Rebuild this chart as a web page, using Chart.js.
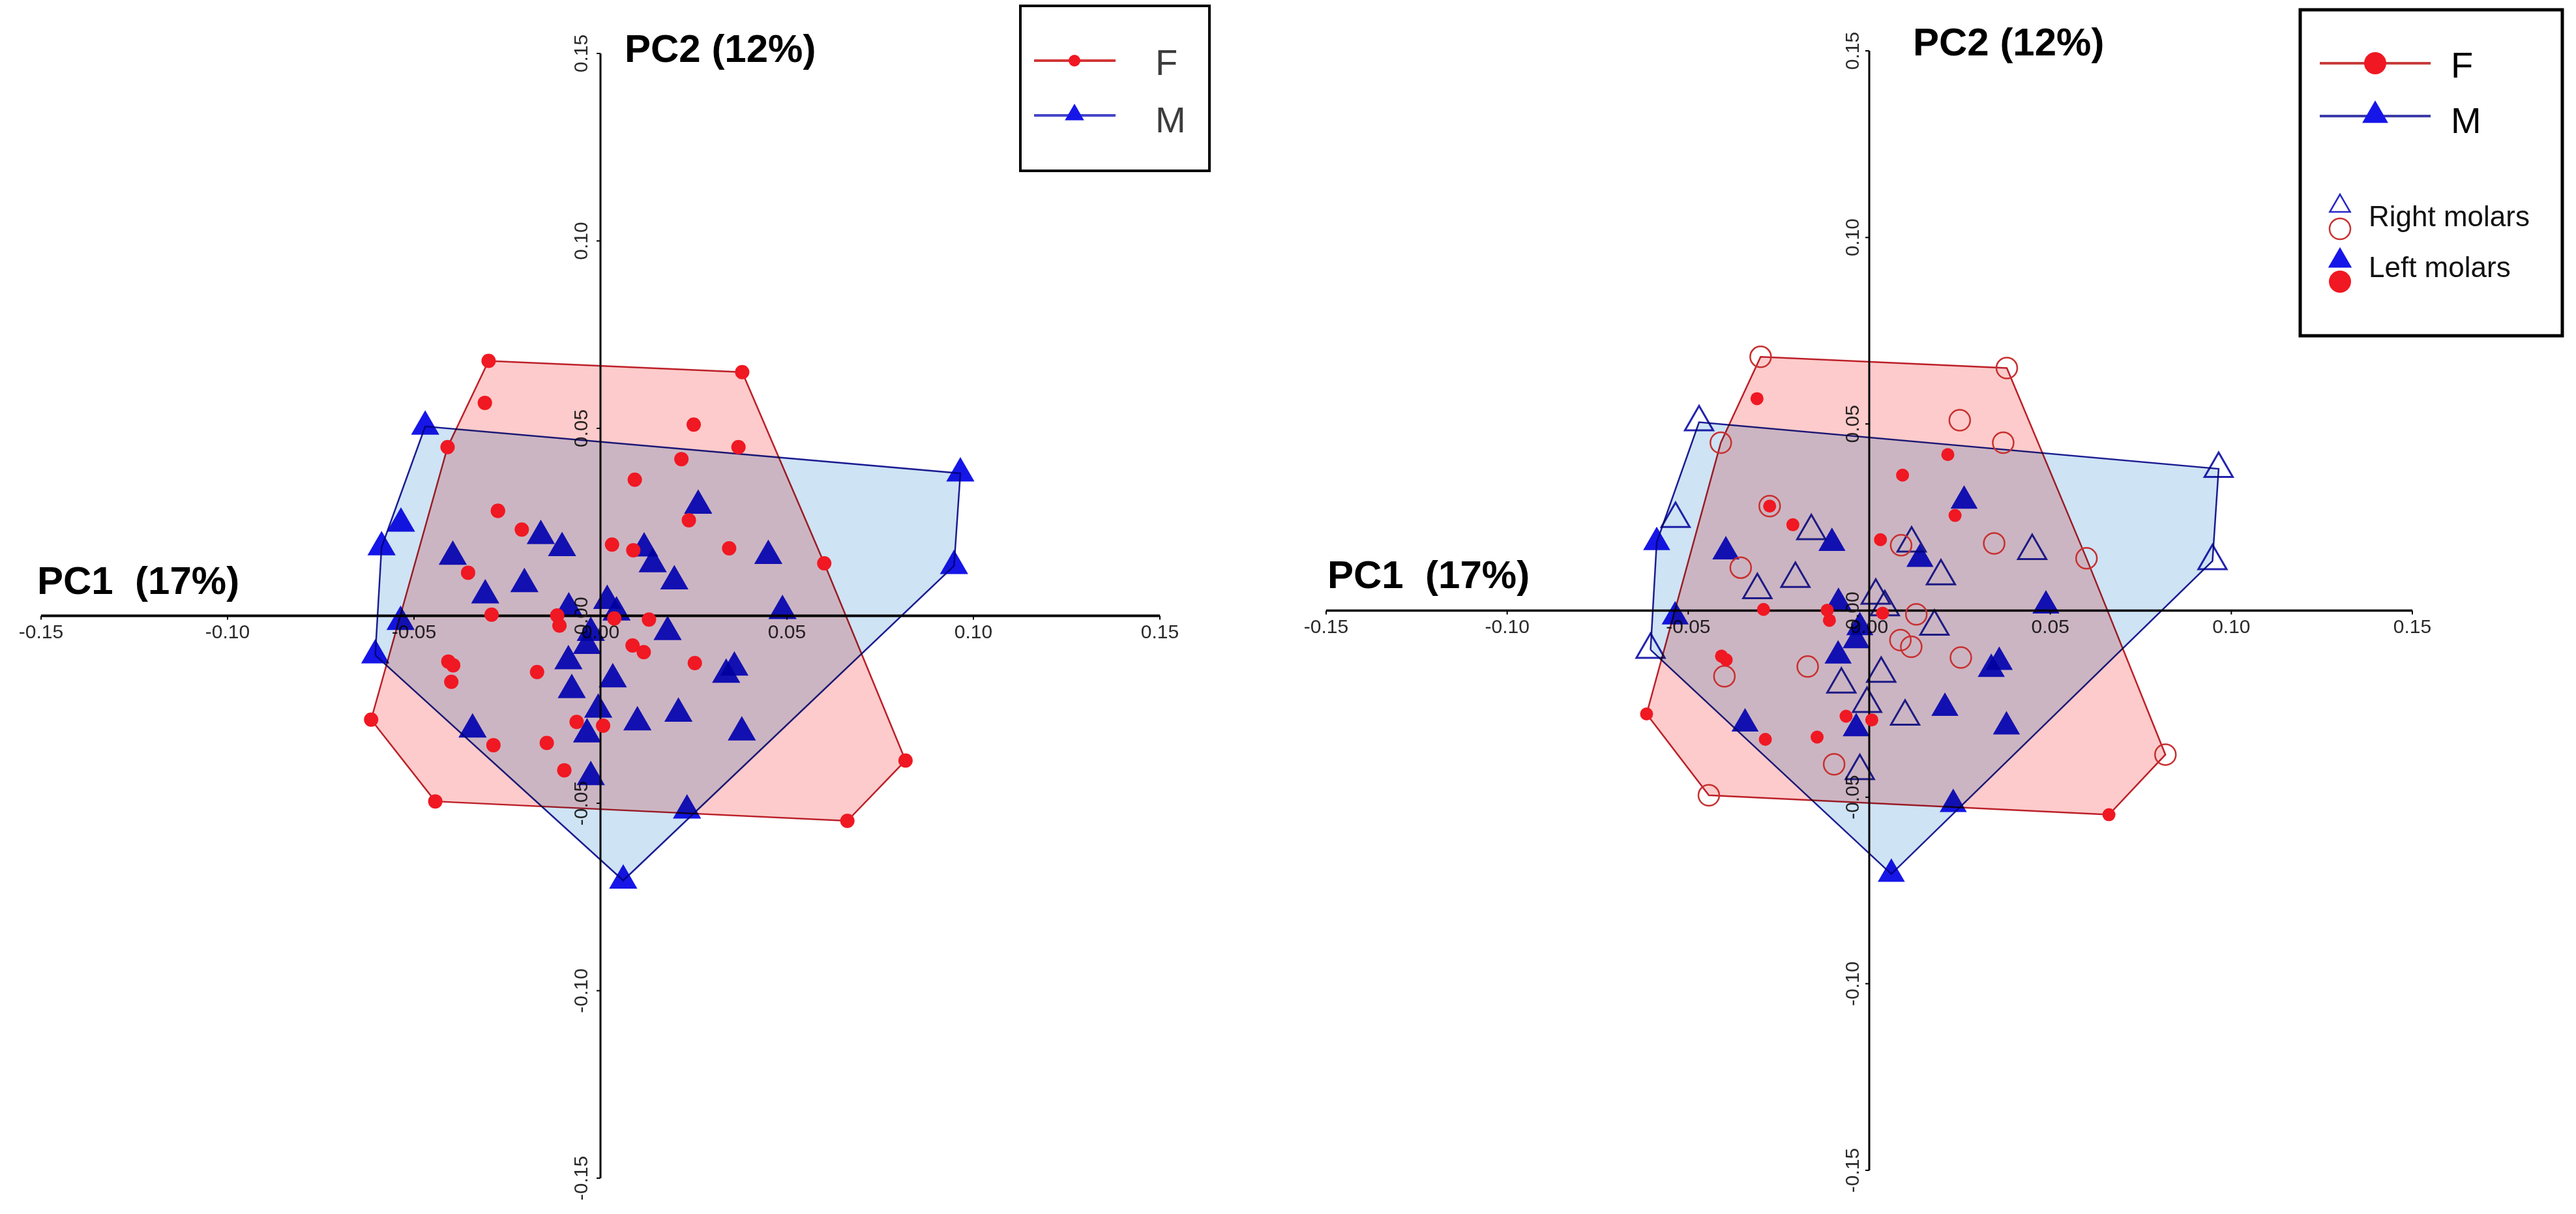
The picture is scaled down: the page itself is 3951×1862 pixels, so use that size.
<!DOCTYPE html>
<html>
<head>
<meta charset="UTF-8">
<title>PCA molars F / M</title>
<style>
  body { margin:0; background:#fff; width:3951px; height:1862px; position:relative; overflow:hidden; }
  canvas { position:absolute; top:0; }
  #pcaLeft { left:0; }
  #pcaRight { left:1975px; }
</style>
</head>
<body>
<canvas id="pcaLeft" width="1975" height="1862"></canvas>
<canvas id="pcaRight" width="1976" height="1862"></canvas>
<script src="https://cdn.jsdelivr.net/npm/chart.js"></script>
<script>
// ---------------- data: [PC1, PC2] ----------------
const tickValues = [-0.15, -0.10, -0.05, 0.00, 0.05, 0.10, 0.15];
const axisTitleX = 'PC1  (17%)';
const axisTitleY = 'PC2 (12%)';
const sexLabels = ['F', 'M'];
const sideLabels = ['Right molars', 'Left molars'];

// females, right molars (open circles)
const fRight = [
  [-0.030, 0.068], [0.038, 0.065], [0.025, 0.051], [0.037, 0.045], [-0.041, 0.045],
  [-0.0275, 0.028], [-0.0355, 0.0115], [0.0345, 0.018], [0.060, 0.014], [0.0088, 0.0175],
  [0.013, -0.001], [0.0086, -0.0079], [0.0116, -0.0097], [0.0253, -0.0126], [-0.017, -0.015],
  [-0.040, -0.0176], [-0.0097, -0.0412], [-0.0443, -0.0495], [0.0818, -0.0386]
];
// females, left molars (filled circles)
const fLeft = [
  [-0.031, 0.0568], [0.0217, 0.0418], [0.0092, 0.0363], [0.0237, 0.0255], [-0.0275, 0.028],
  [-0.0211, 0.023], [0.0031, 0.019], [-0.0292, 0.0003], [-0.0116, 0.0001], [-0.011, -0.0026],
  [0.0037, -0.0007], [-0.0408, -0.0122], [-0.0395, -0.0132], [-0.0615, -0.0277], [-0.0064, -0.0283],
  [0.0007, -0.0293], [-0.0287, -0.0345], [-0.0144, -0.0339], [0.0662, -0.0547]
];
// males, right molars (open triangles)
const mRight = [
  [-0.047, 0.0505], [0.0965, 0.038], [-0.0535, 0.0246], [-0.016, 0.0213], [-0.0204, 0.0085],
  [-0.0309, 0.0055], [0.0117, 0.018], [0.045, 0.016], [0.0948, 0.0133], [0.0198, 0.0092],
  [0.0018, 0.004], [0.0043, 0.0009], [0.018, -0.0043], [-0.0604, -0.0105], [0.0033, -0.0169],
  [-0.0077, -0.0198], [-0.0006, -0.025], [0.0099, -0.0284], [-0.0026, -0.043]
];
// males, left molars (filled triangles)
const mLeft = [
  [-0.0587, 0.0183], [-0.0396, 0.0158], [-0.0103, 0.0181], [0.0262, 0.0294], [0.014, 0.0138],
  [-0.0085, 0.002], [-0.0536, -0.0016], [0.0488, 0.0013], [-0.0026, -0.0045], [-0.0036, -0.008],
  [-0.0086, -0.0121], [0.0359, -0.0138], [0.0337, -0.0157], [0.0209, -0.0261], [-0.0343, -0.0303],
  [-0.0036, -0.0316], [0.0379, -0.0311], [0.0232, -0.0519], [0.0061, -0.0706]
];

// ---------------- colours ----------------
const RED = 'rgb(240,24,34)';
const BLUE = 'rgb(22,22,232)';
const RED_LINE = 'rgb(190,35,45)';
const BLUE_LINE = 'rgb(30,30,150)';
const RED_FILL = 'rgb(253,203,203)';
const BLUE_FILL = 'rgb(206,227,244)';
const FONT = '"Liberation Sans", Arial, sans-serif';

// convex hull (monotone chain) -> closed polygon
function convexHull(pts) {
  const p = pts.slice().sort((a, b) => a[0] - b[0] || a[1] - b[1]);
  const cross = (o, a, b) => (a[0] - o[0]) * (b[1] - o[1]) - (a[1] - o[1]) * (b[0] - o[0]);
  const lower = [], upper = [];
  p.forEach(q => {
    while (lower.length >= 2 && cross(lower[lower.length - 2], lower[lower.length - 1], q) <= 0) lower.pop();
    lower.push(q);
  });
  p.slice().reverse().forEach(q => {
    while (upper.length >= 2 && cross(upper[upper.length - 2], upper[upper.length - 1], q) <= 0) upper.pop();
    upper.push(q);
  });
  upper.pop(); lower.pop();
  const h = lower.concat(upper);
  h.push(h[0]);
  return h;
}

const toXY = arr => arr.map(p => ({x: p[0], y: p[1]}));

function hullDataset(pts, line, fill) {
  return {
    data: toXY(convexHull(pts)),
    showLine: true,
    fill: 'shape',
    borderColor: line,
    borderWidth: 2.5,
    backgroundColor: fill,
    pointRadius: 0,
    tension: 0
  };
}

function pointDataset(pts, style, radius, color, open, borderW, onTop) {
  return {
    data: toXY(pts),
    showLine: false,
    pointStyle: style,
    pointRadius: radius,
    pointBackgroundColor: open ? 'rgba(0,0,0,0)' : color,
    pointBorderColor: color,
    pointBorderWidth: open ? borderW : 0,
    onTop: !!onTop
  };
}

function drawMarker(ctx, style, x, y, r, color, open) {
  ctx.beginPath();
  if (style === 'circle') {
    ctx.arc(x, y, r, 0, Math.PI * 2);
  } else {
    let a = 0;
    ctx.moveTo(x + Math.sin(a) * r, y - Math.cos(a) * r);
    a += Math.PI * 2 / 3;
    ctx.lineTo(x + Math.sin(a) * r, y - Math.cos(a) * r);
    a += Math.PI * 2 / 3;
    ctx.lineTo(x + Math.sin(a) * r, y - Math.cos(a) * r);
    ctx.closePath();
  }
  if (open) { ctx.strokeStyle = color; ctx.lineWidth = 2.5; ctx.stroke(); }
  else { ctx.fillStyle = color; ctx.fill(); }
}

// axes crossing at (0,0), titles, then multiply blending for the hulls
const crossAxes = {
  id: 'crossAxes',
  beforeDraw(chart) {
    const ctx = chart.ctx;
    ctx.save();
    ctx.fillStyle = '#fff';
    ctx.fillRect(0, 0, chart.width, chart.height);
    ctx.restore();
  },
  beforeDatasetsDraw(chart, args, o) {
    const {ctx, scales: {x, y}} = chart;
    const x0 = x.getPixelForValue(0), y0 = y.getPixelForValue(0);
    const first = tickValues[0], last = tickValues[tickValues.length - 1];
    ctx.save();
    ctx.strokeStyle = '#000';
    ctx.lineWidth = o.xLineWidth;
    ctx.beginPath();
    ctx.moveTo(x.getPixelForValue(first), y0);
    ctx.lineTo(x.getPixelForValue(last), y0);
    ctx.stroke();
    ctx.lineWidth = 3;
    ctx.beginPath();
    ctx.moveTo(x0, y.getPixelForValue(last));
    ctx.lineTo(x0, y.getPixelForValue(first));
    ctx.stroke();

    ctx.font = '30px ' + FONT;
    ctx.fillStyle = '#2a2a2a';
    tickValues.forEach(v => {
      const px = x.getPixelForValue(v);
      const py = y.getPixelForValue(v);
      ctx.lineWidth = 2;
      ctx.beginPath();
      ctx.moveTo(px, y0); ctx.lineTo(px, y0 + 6);
      ctx.moveTo(x0, py); ctx.lineTo(x0 - 6, py);
      ctx.stroke();
      ctx.textAlign = 'center';
      ctx.textBaseline = 'top';
      ctx.fillText(v.toFixed(2), px, y0 + o.xLabelGap);
      ctx.save();
      ctx.translate(x0 - o.yLabelGap, py);
      ctx.rotate(-Math.PI / 2);
      ctx.textBaseline = 'alphabetic';
      ctx.fillText(v.toFixed(2), 0, 0);
      ctx.restore();
    });

    ctx.font = 'bold 60px ' + FONT;
    ctx.fillStyle = '#000';
    ctx.textAlign = 'left';
    ctx.textBaseline = 'alphabetic';
    ctx.fillText(axisTitleY, x0 + o.titleY[0], y.top + o.titleY[1]);
    ctx.fillText(axisTitleX, x.left + o.titleX[0], y0 + o.titleX[1]);
    ctx.restore();

    ctx.save();
    ctx.globalCompositeOperation = 'multiply';
  },
  beforeDatasetDraw(chart, args) {
    if (chart.data.datasets[args.index].onTop) chart.ctx.globalCompositeOperation = 'source-over';
  },
  afterDatasetDraw(chart) {
    chart.ctx.globalCompositeOperation = 'multiply';
  },
  afterDatasetsDraw(chart) {
    chart.ctx.restore();
  }
};

// boxed legends drawn on top
const boxLegend = {
  id: 'boxLegend',
  afterDraw(chart, args, o) {
    const ctx = chart.ctx;
    const b = o.box;
    ctx.save();
    ctx.strokeStyle = '#000';
    ctx.lineWidth = o.frame;
    ctx.strokeRect(b[0], b[1], b[2] - b[0], b[3] - b[1]);

    ctx.lineWidth = 4;
    ctx.strokeStyle = o.fLine;
    ctx.beginPath(); ctx.moveTo(o.line[0], o.rowF); ctx.lineTo(o.line[1], o.rowF); ctx.stroke();
    drawMarker(ctx, 'circle', o.mark, o.rowF, o.dotR, RED, false);
    ctx.strokeStyle = o.mLine;
    ctx.lineWidth = 4;
    ctx.beginPath(); ctx.moveTo(o.line[0], o.rowM); ctx.lineTo(o.line[1], o.rowM); ctx.stroke();
    drawMarker(ctx, 'triangle', o.mark, o.rowM - 1, o.triR, BLUE, false);

    ctx.font = '56px ' + FONT;
    ctx.fillStyle = o.textColor;
    ctx.textAlign = 'left';
    ctx.textBaseline = 'alphabetic';
    ctx.fillText(sexLabels[0], o.textX, o.rowF + 22);
    ctx.fillText(sexLabels[1], o.textX, o.rowM + 26);

    if (o.sides) {
      const s = o.sides;
      drawMarker(ctx, 'triangle', s.x, 316, 18, 'rgb(40,40,200)', true);
      drawMarker(ctx, 'circle', s.x, 351, 16, 'rgb(200,50,50)', true);
      drawMarker(ctx, 'triangle', s.x, 400, 21, BLUE, false);
      drawMarker(ctx, 'circle', s.x, 432, 17, RED, false);
      ctx.font = '44px ' + FONT;
      ctx.fillStyle = '#111';
      ctx.fillText(sideLabels[0], s.textX, 347);
      ctx.fillText(sideLabels[1], s.textX, 425);
    }
    ctx.restore();
  }
};

function makePanel(id, datasets, padding, axesOpts, legendOpts) {
  return new Chart(document.getElementById(id), {
    type: 'scatter',
    data: { datasets },
    options: {
      responsive: false,
      animation: false,
      events: [],
      layout: { padding },
      scales: {
        x: { type: 'linear', min: -0.15, max: 0.15, display: false },
        y: { type: 'linear', min: -0.15, max: 0.15, display: false }
      },
      plugins: {
        legend: { display: false },
        tooltip: { enabled: false },
        crossAxes: axesOpts,
        boxLegend: legendOpts
      }
    },
    plugins: [crossAxes, boxLegend]
  });
}

// left panel: all molars, filled markers
// (datasets are painted last-to-first, so the first entry ends up on top)
const leftChart = makePanel('pcaLeft', [
    pointDataset(fRight.concat(fLeft), 'circle', 11, RED, false, 0, true),
    hullDataset(fRight.concat(fLeft), RED_LINE, RED_FILL),
    hullDataset(mRight.concat(mLeft), BLUE_LINE, BLUE_FILL),
    pointDataset(mRight.concat(mLeft), 'triangle', 25, BLUE, false)
  ],
  { left: 63, right: 196, top: 82, bottom: 55 },
  { xLineWidth: 4, xLabelGap: 11, yLabelGap: 20, titleY: [37, 13], titleX: [-6, -34] },
  { box: [1565, 9, 1855, 262], frame: 4, line: [1586, 1711], mark: 1648, rowF: 93, rowM: 177,
    dotR: 9, triR: 17, fLine: 'rgb(210,55,55)', mLine: 'rgb(70,70,200)', textX: 1772, textColor: '#3c3c3c' }
);

// right panel: right molars open, left molars filled
const rightChart = makePanel('pcaRight', [
    pointDataset(fLeft, 'circle', 10, RED, false, 0, true),
    pointDataset(fRight, 'circle', 16, 'rgb(200,48,48)', true, 2.5, true),
    hullDataset(fRight.concat(fLeft), RED_LINE, RED_FILL),
    hullDataset(mRight.concat(mLeft), BLUE_LINE, BLUE_FILL),
    pointDataset(mLeft, 'triangle', 24, BLUE, false),
    pointDataset(mRight, 'triangle', 25, 'rgb(35,35,175)', true, 3)
  ],
  { left: 59, right: 251, top: 78, bottom: 67 },
  { xLineWidth: 3.5, xLabelGap: 11, yLabelGap: 16, titleY: [67, 7], titleX: [2, -35] },
  { box: [1553, 15, 1955, 515], frame: 5, line: [1583, 1753], mark: 1668, rowF: 97, rowM: 178,
    dotR: 17, triR: 23, fLine: 'rgb(200,60,60)', mLine: 'rgb(60,60,170)', textX: 1784, textColor: '#000',
    sides: { x: 1614, textX: 1658 } }
);
</script>
</body>
</html>
